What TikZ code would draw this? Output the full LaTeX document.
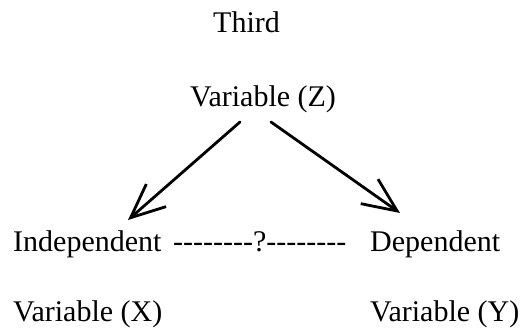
\documentclass[tikz,border=0pt]{standalone}
\usepackage{fontspec}
\setmainfont{Liberation Serif}
\usepackage{tikz}
\usetikzlibrary{arrows.meta}
\newcommand\hy{-\kern0pt}

\begin{document}
\begin{tikzpicture}[x=1pt,y=-1pt,
  lbl/.style={anchor=base west,inner sep=0pt,font=\fontsize{30}{35}\selectfont},
  arr/.style={line width=2.8pt,line cap=round,-{Straight Barb[length=34pt,width=30pt,line width=2.8pt]}}]
  \useasboundingbox (0,0) rectangle (524,329);
  \node[lbl](third) at (213,33) {Third};
  \node[lbl](z) at (190,106) {Variable (Z)};
  \node[lbl](ind) at (13,251) {Independent};
  \node[lbl](link) at (173,251) {\hy\hy\hy\hy\hy\hy\hy\hy?\hy\hy\hy\hy\hy\hy\hy\hy};
  \node[lbl](dep) at (370,251) {Dependent};
  \node[lbl](varx) at (13,321) {Variable (X)};
  \node[lbl](vary) at (370,321) {Variable (Y)};
  \draw[arr]([shift={(50,16)}]z.base west)--([shift={(115,-31)}]ind.base west);
  \draw[arr]([shift={(81,16)}]z.base west)--([shift={(30,-38)}]dep.base west);
\end{tikzpicture}
\end{document}
